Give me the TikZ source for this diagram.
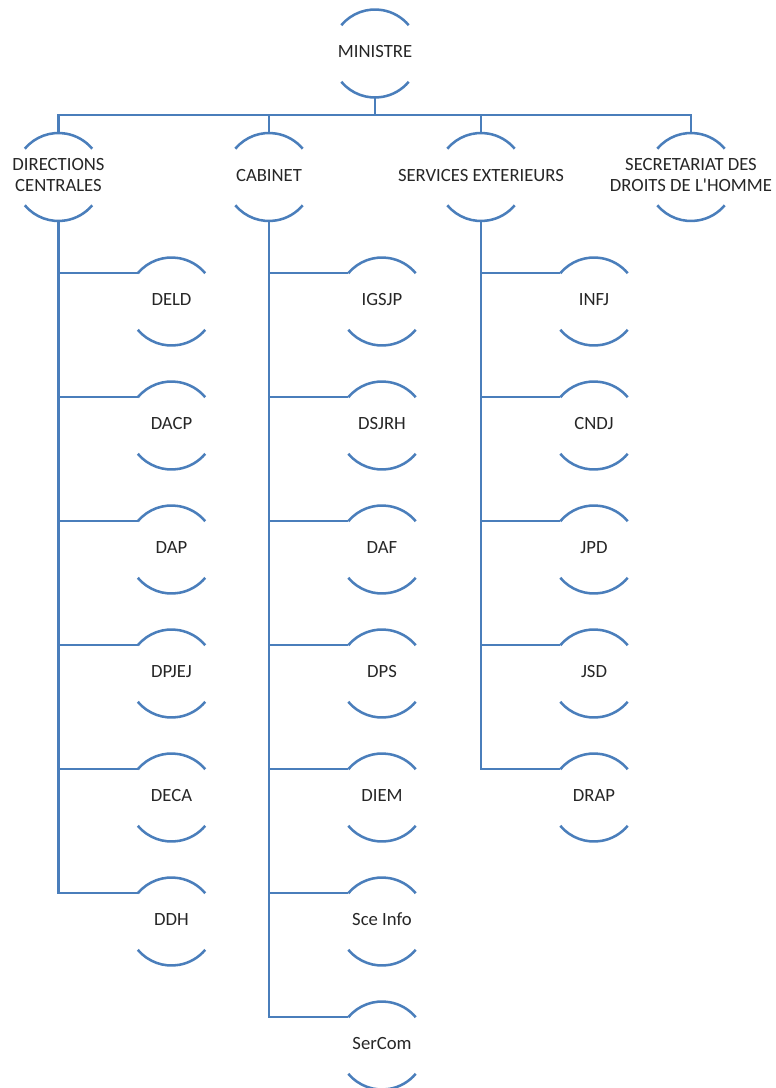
\documentclass[tikz,border=0pt]{standalone}
\usepackage{fontspec}
\setmainfont{Carlito}
\usepackage{tikz}
\usetikzlibrary{positioning, calc}
\usepackage{xcolor}
\definecolor{orgblue}{RGB}{74,126,187}

\newcommand{\unittext}[1]{\makebox[0pt]{\begin{tabular}{@{}c@{}}#1\end{tabular}}}

\begin{document}
\begin{tikzpicture}[
  x=0.75pt, y=0.75pt,
  unit/.style={circle, minimum size=66pt, inner sep=0pt, outer sep=0pt,
               text=black!85, font=\fontsize{14}{15.8}\selectfont},
  unitarc/.style={draw=orgblue, line width=1.9pt},
  link/.style={draw=orgblue, line width=1.9pt}
]
  \useasboundingbox (0,0) rectangle (775,-1088);

  % top
  \node[unit] (min) at (375,-53.5) {\unittext{MINISTRE}};
  \coordinate (bus) at (375,-115);

  % first level
  \node[unit] (dc)  at (58.5,-177) {\unittext{DIRECTIONS\\CENTRALES}};
  \node[unit] (cab) at (269,-177)  {\unittext{CABINET}};
  \node[unit] (se)  at (481,-177)  {\unittext{SERVICES EXTERIEURS}};
  \node[unit] (sdh) at (691,-177)  {\unittext{SECRETARIAT DES\\DROITS DE L\textquotesingle HOMME}};

  % directions centrales
  \node[unit] (deld)  at (171.5,-301.5) {\unittext{DELD}};
  \node[unit] (dacp)  at (171.5,-425.5) {\unittext{DACP}};
  \node[unit] (dap)   at (171.5,-549.5) {\unittext{DAP}};
  \node[unit] (dpjej) at (171.5,-673.5) {\unittext{DPJEJ}};
  \node[unit] (deca)  at (171.5,-797.5) {\unittext{DECA}};
  \node[unit] (ddh)   at (171.5,-921.5) {\unittext{DDH}};

  % cabinet
  \node[unit] (igsjp)  at (382,-301.5)  {\unittext{IGSJP}};
  \node[unit] (dsjrh)  at (382,-425.5)  {\unittext{DSJRH}};
  \node[unit] (daf)    at (382,-549.5)  {\unittext{DAF}};
  \node[unit] (dps)    at (382,-673.5)  {\unittext{DPS}};
  \node[unit] (diem)   at (382,-797.5)  {\unittext{DIEM}};
  \node[unit] (sce)    at (382,-921.5)  {\unittext{Sce Info}};
  \node[unit] (sercom) at (382,-1045.5) {\unittext{SerCom}};

  % services exterieurs
  \node[unit] (infj) at (594,-301.5) {\unittext{INFJ}};
  \node[unit] (cndj) at (594,-425.5) {\unittext{CNDJ}};
  \node[unit] (jpd)  at (594,-549.5) {\unittext{JPD}};
  \node[unit] (jsd)  at (594,-673.5) {\unittext{JSD}};
  \node[unit] (drap) at (594,-797.5) {\unittext{DRAP}};

  % arcs above and below each unit
  \foreach \n in {min,dc,cab,se,sdh,deld,dacp,dap,dpjej,deca,ddh,
                  igsjp,dsjrh,daf,dps,diem,sce,sercom,infj,cndj,jpd,jsd,drap}
    \draw[unitarc] (\n.140) arc[start angle=140, end angle=40, radius=33pt]
                   (\n.220) arc[start angle=220, end angle=320, radius=33pt];

  % connectors
  \draw[link] (min.south) -- (bus);
  \foreach \n in {dc,cab,se,sdh}
    \draw[link] (bus) -| (\n.north);
  \foreach \n in {deld,dacp,dap,dpjej,deca,ddh}
    \draw[link] (dc.south) |- (\n.140);
  \foreach \n in {igsjp,dsjrh,daf,dps,diem,sce,sercom}
    \draw[link] (cab.south) |- (\n.140);
  \foreach \n in {infj,cndj,jpd,jsd,drap}
    \draw[link] (se.south) |- (\n.140);
\end{tikzpicture}
\end{document}
